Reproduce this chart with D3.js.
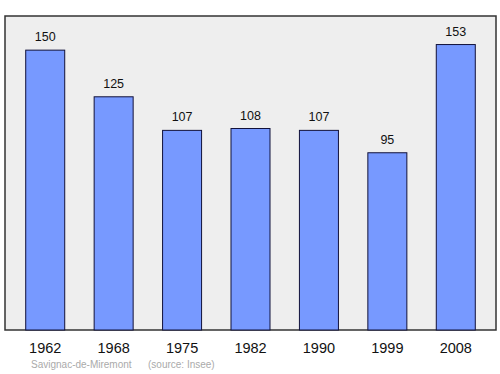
<!DOCTYPE html>
<html>
<head>
<meta charset="utf-8">
<script src="https://cdn.jsdelivr.net/npm/d3@7"></script>
<style>
  body { margin: 0; background: #fff; }
  text { font-family: "Liberation Sans", Arial, sans-serif; }
</style>
</head>
<body>
<script>
var years = ["1962", "1968", "1975", "1982", "1990", "1999", "2008"];
var population = [150, 125, 107, 108, 107, 95, 153];
var commune = "Savignac-de-Miremont";
var source = "(source: Insee)";

var w = 500, h = 374,
    plotLeft = 5, plotRight = 496, plotTop = 16, plotBottom = 330;

var svg = d3.select("body").append("svg")
    .attr("width", w)
    .attr("height", h);

/* frame */
svg.append("rect")
    .attr("x", plotLeft)
    .attr("y", plotTop)
    .attr("width", plotRight - plotLeft)
    .attr("height", plotBottom - plotTop)
    .attr("fill", "#eeeeee")
    .attr("stroke", "#333")
    .attr("stroke-width", 1.5);

var x = d3.scaleBand()
    .domain(years)
    .range([11, 490])
    .paddingInner(0.43)
    .paddingOuter(0.215);

var y = d3.scaleLinear()
    .domain([0, d3.max(population) * 1.1])
    .range([plotBottom, plotTop]);

var data = years.map(function(d, i) { return { year: d, value: population[i] }; });

svg.selectAll("rect.bar")
    .data(data)
  .enter().append("rect")
    .attr("class", "bar")
    .attr("x", function(d) { return x(d.year); })
    .attr("y", function(d) { return y(d.value); })
    .attr("width", x.bandwidth())
    .attr("height", function(d) { return plotBottom - y(d.value); })
    .attr("fill", "#7799ff")
    .attr("stroke", "#11113a")
    .attr("stroke-width", 1);

svg.selectAll("text.value")
    .data(data)
  .enter().append("text")
    .attr("class", "value")
    .attr("x", function(d) { return x(d.year) + x.bandwidth() / 2; })
    .attr("y", function(d) { return y(d.value) - 9; })
    .attr("text-anchor", "middle")
    .attr("font-size", 12.5)
    .attr("fill", "#111")
    .text(function(d) { return d.value; });

/* year labels */
var xAxis = svg.append("g")
    .attr("transform", "translate(0," + plotBottom + ")")
    .call(d3.axisBottom(x).tickSize(0).tickPadding(0));
xAxis.select(".domain").remove();
xAxis.selectAll("text")
    .attr("dy", 0)
    .attr("y", 23)
    .attr("font-size", 14.5)
    .attr("font-family", "Liberation Sans, Arial, sans-serif")
    .attr("fill", "#111");

svg.append("text")
    .attr("x", 31)
    .attr("y", 368)
    .attr("font-size", 10)
    .attr("fill", "#aaa")
    .text(commune);

svg.append("text")
    .attr("x", 148)
    .attr("y", 368)
    .attr("font-size", 10)
    .attr("fill", "#aaa")
    .text(source);
</script>
</body>
</html>
